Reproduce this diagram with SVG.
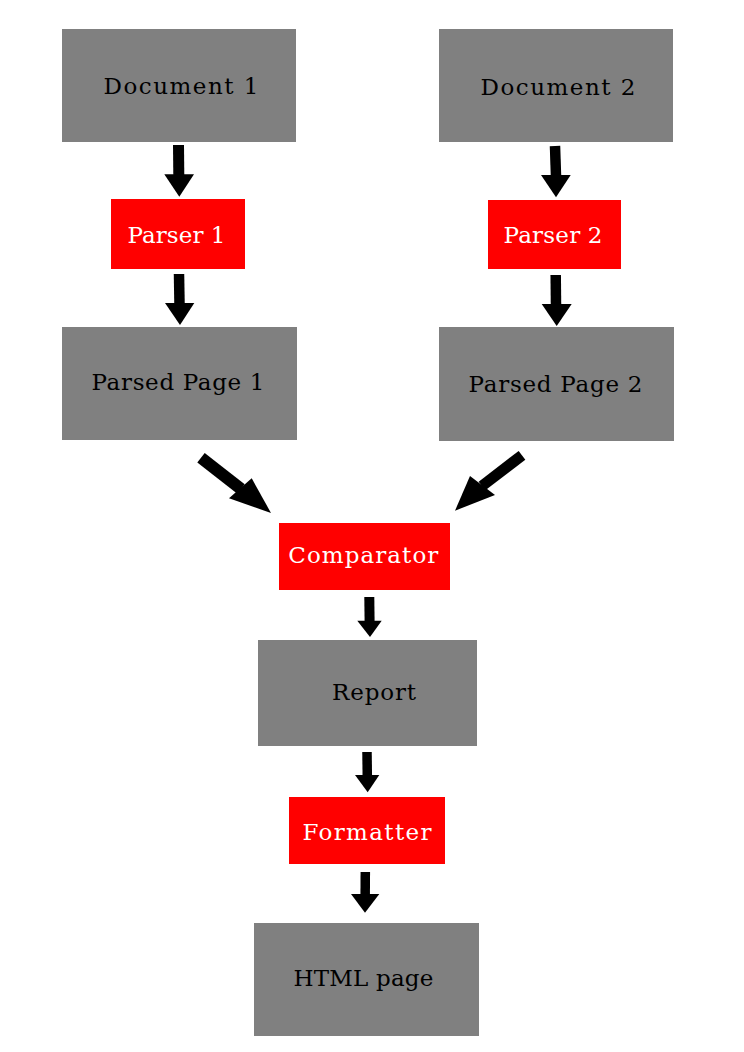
<svg xmlns="http://www.w3.org/2000/svg" width="744" height="1052" viewBox="0 0 744 1052">
<style>
  .data rect { fill: #808080; }
  .proc rect { fill: #ff0000; }
  text { font-family: "DejaVu Serif", "Liberation Serif", serif; font-size: 23px; text-anchor: middle; }
  .data text { fill: #000000; }
  .proc text { fill: #ffffff; }
  .edge line { stroke: #000000; stroke-linecap: butt; }
  .edge polygon { fill: #000000; }
</style>
<rect x="0" y="0" width="744" height="1052" fill="#ffffff"/>
<g id="connectors">
  <g class="edge" id="e-doc1-parser1">
    <line x1="178.5" y1="145" x2="178.8" y2="175" stroke-width="11"/>
    <polygon points="164.3,174.3 194,174.3 179.3,196.7"/>
  </g>
  <g class="edge" id="e-parser1-pp1">
    <line x1="179" y1="274" x2="179.5" y2="304" stroke-width="10.5"/>
    <polygon points="165,303 194.3,303 180,325"/>
  </g>
  <g class="edge" id="e-doc2-parser2">
    <line x1="555" y1="146" x2="556" y2="176" stroke-width="10.5"/>
    <polygon points="541,175 570.7,175 556,197.3"/>
  </g>
  <g class="edge" id="e-parser2-pp2">
    <line x1="555.7" y1="275" x2="556" y2="305" stroke-width="10.5"/>
    <polygon points="541.7,304 571.7,304 556.7,326"/>
  </g>
  <g class="edge" id="e-pp1-comparator">
    <line x1="201" y1="457.7" x2="241" y2="489" stroke-width="12"/>
    <polygon points="229,498.3 251.7,478.3 271,513"/>
  </g>
  <g class="edge" id="e-pp2-comparator">
    <line x1="522" y1="455.3" x2="482" y2="486" stroke-width="11"/>
    <polygon points="470,476 495,495 455,510.7"/>
  </g>
  <g class="edge" id="e-comparator-report">
    <line x1="369.3" y1="597" x2="369.6" y2="621.5" stroke-width="10"/>
    <polygon points="357.3,620.7 381.7,620.7 370,637"/>
  </g>
  <g class="edge" id="e-report-formatter">
    <line x1="367" y1="752" x2="367.3" y2="776" stroke-width="9.5"/>
    <polygon points="355,775 379.3,775 367.7,792.3"/>
  </g>
  <g class="edge" id="e-formatter-html">
    <line x1="365.3" y1="872" x2="365.2" y2="895" stroke-width="9.5"/>
    <polygon points="351,894 379.3,894 365,912.7"/>
  </g>
</g>
<g id="doc1" class="data">
  <rect x="62" y="29" width="234" height="113"/>
  <text x="181" y="93.5" textLength="155" lengthAdjust="spacing">Document 1</text>
</g>
<g id="doc2" class="data">
  <rect x="439" y="29" width="234" height="113"/>
  <text x="558" y="94.5" textLength="155" lengthAdjust="spacing">Document 2</text>
</g>
<g id="parser1" class="proc">
  <rect x="111" y="199" width="134" height="70"/>
  <text x="176.5" y="243" textLength="98" lengthAdjust="spacing">Parser 1</text>
</g>
<g id="parser2" class="proc">
  <rect x="488" y="200" width="133" height="69"/>
  <text x="553" y="243.3" textLength="99" lengthAdjust="spacing">Parser 2</text>
</g>
<g id="pp1" class="data">
  <rect x="62" y="327" width="235" height="113"/>
  <text x="178" y="389.5" textLength="173" lengthAdjust="spacing">Parsed Page 1</text>
</g>
<g id="pp2" class="data">
  <rect x="439" y="327" width="235" height="114"/>
  <text x="555.5" y="391.5" textLength="174" lengthAdjust="spacing">Parsed Page 2</text>
</g>
<g id="comparator" class="proc">
  <rect x="279" y="523" width="171" height="67"/>
  <text x="363.3" y="563.3" textLength="150" lengthAdjust="spacing">Comparator</text>
</g>
<g id="report" class="data">
  <rect x="258" y="640" width="219" height="106"/>
  <text x="374" y="700" textLength="84" lengthAdjust="spacing">Report</text>
</g>
<g id="formatter" class="proc">
  <rect x="289" y="797" width="156" height="67"/>
  <text x="367" y="840" textLength="129" lengthAdjust="spacing">Formatter</text>
</g>
<g id="html" class="data">
  <rect x="254" y="923" width="225" height="113"/>
  <text x="363.4" y="986" textLength="140" lengthAdjust="spacing">HTML page</text>
</g>
</svg>
